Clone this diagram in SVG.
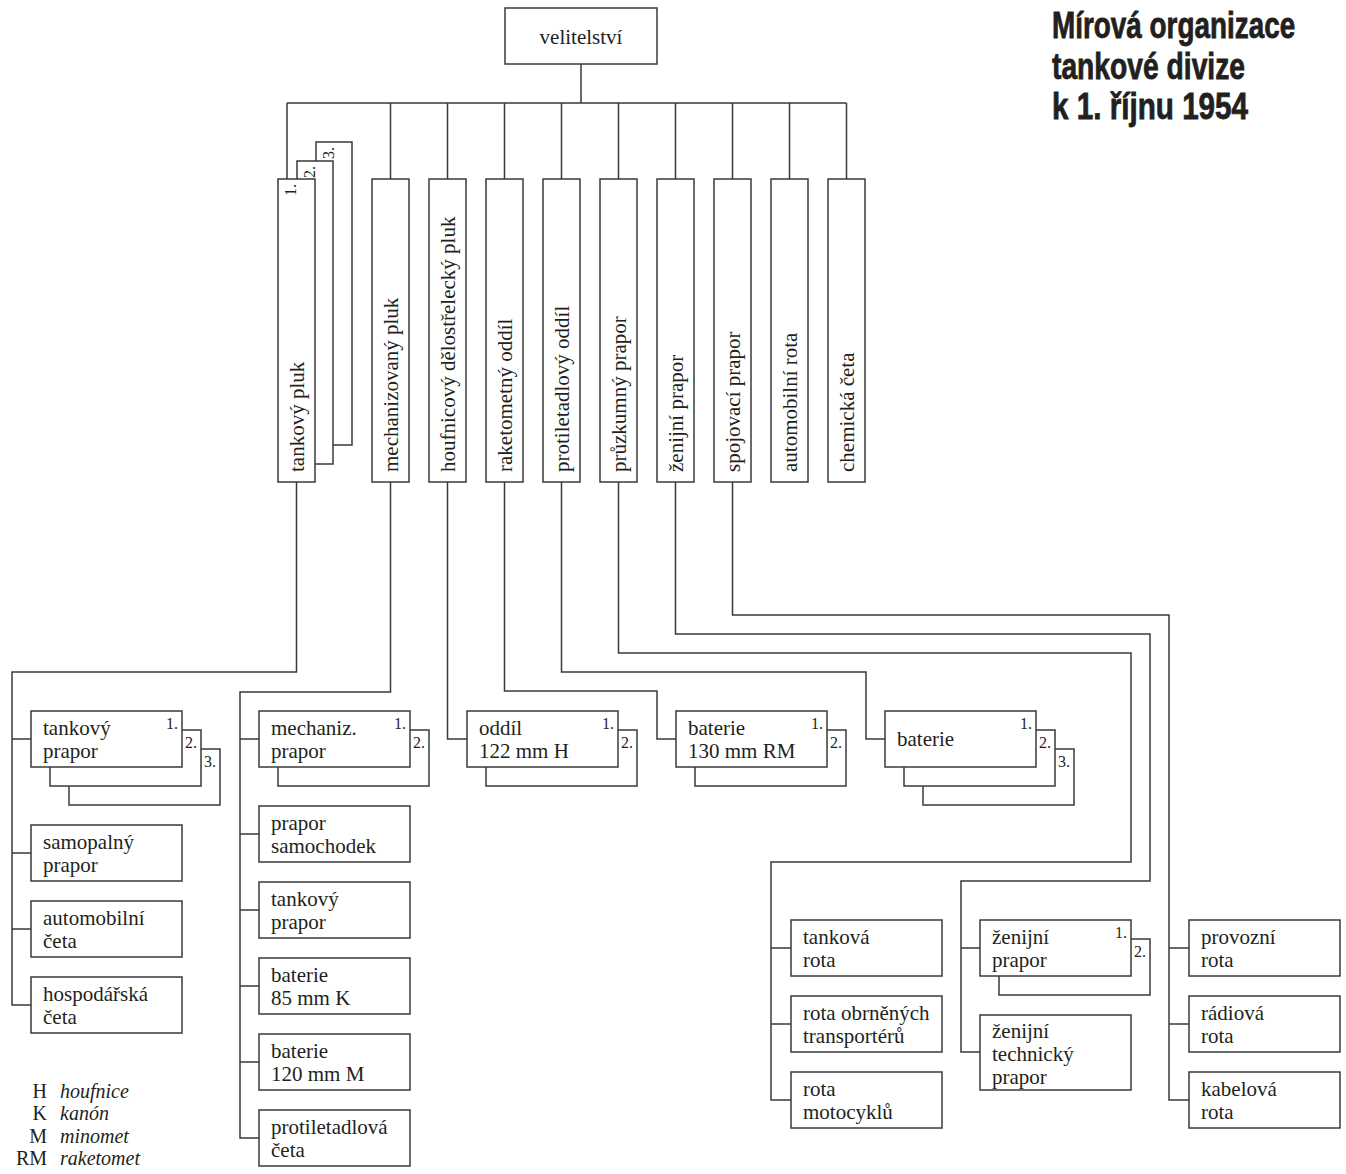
<svg xmlns="http://www.w3.org/2000/svg" width="1346" height="1174" viewBox="0 0 1346 1174">
<style>
.bx{fill:#fff;stroke:#3a3a3a;stroke-width:1.5}
.ln{fill:none;stroke:#3a3a3a;stroke-width:1.5}
.t{font-family:"Liberation Serif","Times New Roman",serif;font-size:21px;fill:#231f20}
.n{font-family:"Liberation Serif","Times New Roman",serif;font-size:16px;fill:#231f20;text-anchor:end}
.lg{font-family:"Liberation Serif","Times New Roman",serif;font-size:20px;fill:#231f20}
.lgi{font-style:italic}
.ttl{font-family:"Liberation Sans",Arial,sans-serif;font-weight:bold;font-size:37px;fill:#231f20;stroke:#231f20;stroke-width:0.8}
</style>
<rect width="1346" height="1174" fill="#fff"/>

<g id="title">
<text class="ttl" transform="translate(1052,38) scale(0.76,1)" textLength="320" lengthAdjust="spacingAndGlyphs">Mírová organizace</text>
<text class="ttl" transform="translate(1052,79) scale(0.76,1)" textLength="254" lengthAdjust="spacingAndGlyphs">tankové divize</text>
<text class="ttl" transform="translate(1052,119) scale(0.76,1)" textLength="258" lengthAdjust="spacingAndGlyphs">k 1. říjnu 1954</text>
</g>

<g id="connectors">
<path class="ln" d="M581 64V103M287 103H846.5M287 103V179"/>
<path class="ln" d="M390.5 103V179M447.5 103V179M504.5 103V179M561.5 103V179M618.5 103V179M675.5 103V179M732.5 103V179M789.5 103V179M846.5 103V179"/>
<path class="ln" d="M296.5 482V672H12V1005H31M12 739H31M12 853H31M12 929H31"/>
<path class="ln" d="M390.5 482V692H240V1138H259M240 739H259M240 834H259M240 910H259M240 986H259M240 1062H259"/>
<path class="ln" d="M447.5 482V739H467"/>
<path class="ln" d="M504.5 482V691H657V739H676"/>
<path class="ln" d="M561.5 482V672H866V739H885"/>
<path class="ln" d="M618.5 482V653H1131V862H771V1100H791M771 948H791M771 1024H791"/>
<path class="ln" d="M675.5 482V634H1150V881H961V1052H980M961 948H980"/>
<path class="ln" d="M732.5 482V615H1169V1100H1189M1169 948H1189M1169 1024H1189"/>
</g>

<g id="velitelstvi">
<rect class="bx" x="505" y="8" width="152" height="56"/>
<text class="t" x="581" y="44" text-anchor="middle">velitelství</text>
</g>

<g id="tankovy-pluk">
<rect class="bx" x="316" y="142" width="36" height="303"/>
<text class="n" transform="translate(334,147) rotate(-90)">3.</text>
<rect class="bx" x="297" y="161" width="36" height="303"/>
<text class="n" transform="translate(315,166) rotate(-90)">2.</text>
<rect class="bx" x="278" y="179" width="37" height="303"/>
<text class="n" transform="translate(296,184) rotate(-90)">1.</text>
<text class="t" transform="translate(304,472) rotate(-90)">tankový pluk</text>
</g>
<g id="mechanizovany-pluk">
<rect class="bx" x="372" y="179" width="37" height="303"/>
<text class="t" transform="translate(398,472) rotate(-90)">mechanizovaný pluk</text>
</g>
<g id="houfnicovy-pluk">
<rect class="bx" x="429" y="179" width="37" height="303"/>
<text class="t" transform="translate(455,472) rotate(-90)">houfnicový dělostřelecký pluk</text>
</g>
<g id="raketometny-oddil">
<rect class="bx" x="486" y="179" width="37" height="303"/>
<text class="t" transform="translate(512,472) rotate(-90)">raketometný oddíl</text>
</g>
<g id="protiletadlovy-oddil">
<rect class="bx" x="543" y="179" width="37" height="303"/>
<text class="t" transform="translate(569,472) rotate(-90)">protiletadlový oddíl</text>
</g>
<g id="pruzkumny-prapor">
<rect class="bx" x="600" y="179" width="37" height="303"/>
<text class="t" transform="translate(626,472) rotate(-90)">průzkumný prapor</text>
</g>
<g id="zenijni-prapor-top">
<rect class="bx" x="657" y="179" width="37" height="303"/>
<text class="t" transform="translate(683,472) rotate(-90)">ženijní prapor</text>
</g>
<g id="spojovaci-prapor">
<rect class="bx" x="714" y="179" width="37" height="303"/>
<text class="t" transform="translate(740,472) rotate(-90)">spojovací prapor</text>
</g>
<g id="automobilni-rota">
<rect class="bx" x="771" y="179" width="37" height="303"/>
<text class="t" transform="translate(797,472) rotate(-90)">automobilní rota</text>
</g>
<g id="chemicka-ceta">
<rect class="bx" x="828" y="179" width="37" height="303"/>
<text class="t" transform="translate(854,472) rotate(-90)">chemická četa</text>
</g>

<g id="tankovy-prapor">
<rect class="bx" x="69" y="749" width="151" height="56"/>
<text class="n" x="216" y="767">3.</text>
<rect class="bx" x="50" y="730" width="151" height="56"/>
<text class="n" x="197" y="748">2.</text>
<rect class="bx" x="31" y="711" width="151" height="56"/>
<text class="n" x="178" y="729">1.</text>
<text class="t" x="43" y="735">tankový</text>
<text class="t" x="43" y="758">prapor</text>
</g>
<g id="samopalny-prapor">
<rect class="bx" x="31" y="825" width="151" height="56"/>
<text class="t" x="43" y="849">samopalný</text>
<text class="t" x="43" y="872">prapor</text>
</g>
<g id="automobilni-ceta">
<rect class="bx" x="31" y="901" width="151" height="56"/>
<text class="t" x="43" y="925">automobilní</text>
<text class="t" x="43" y="948">četa</text>
</g>
<g id="hospodarska-ceta">
<rect class="bx" x="31" y="977" width="151" height="56"/>
<text class="t" x="43" y="1001">hospodářská</text>
<text class="t" x="43" y="1024">četa</text>
</g>

<g id="mechaniz-prapor">
<rect class="bx" x="278" y="730" width="151" height="56"/>
<text class="n" x="425" y="748">2.</text>
<rect class="bx" x="259" y="711" width="151" height="56"/>
<text class="n" x="406" y="729">1.</text>
<text class="t" x="271" y="735">mechaniz.</text>
<text class="t" x="271" y="758">prapor</text>
</g>
<g id="prapor-samochodek">
<rect class="bx" x="259" y="806" width="151" height="56"/>
<text class="t" x="271" y="830">prapor</text>
<text class="t" x="271" y="853">samochodek</text>
</g>
<g id="tankovy-prapor-m">
<rect class="bx" x="259" y="882" width="151" height="56"/>
<text class="t" x="271" y="906">tankový</text>
<text class="t" x="271" y="929">prapor</text>
</g>
<g id="baterie-85">
<rect class="bx" x="259" y="958" width="151" height="56"/>
<text class="t" x="271" y="982">baterie</text>
<text class="t" x="271" y="1005">85 mm K</text>
</g>
<g id="baterie-120">
<rect class="bx" x="259" y="1034" width="151" height="56"/>
<text class="t" x="271" y="1058">baterie</text>
<text class="t" x="271" y="1081">120 mm M</text>
</g>
<g id="protiletadlova-ceta">
<rect class="bx" x="259" y="1110" width="151" height="56"/>
<text class="t" x="271" y="1134">protiletadlová</text>
<text class="t" x="271" y="1157">četa</text>
</g>

<g id="oddil-122">
<rect class="bx" x="486" y="730" width="151" height="56"/>
<text class="n" x="633" y="748">2.</text>
<rect class="bx" x="467" y="711" width="151" height="56"/>
<text class="n" x="614" y="729">1.</text>
<text class="t" x="479" y="735">oddíl</text>
<text class="t" x="479" y="758">122 mm H</text>
</g>
<g id="baterie-130">
<rect class="bx" x="695" y="730" width="151" height="56"/>
<text class="n" x="842" y="748">2.</text>
<rect class="bx" x="676" y="711" width="151" height="56"/>
<text class="n" x="823" y="729">1.</text>
<text class="t" x="688" y="735">baterie</text>
<text class="t" x="688" y="758">130 mm RM</text>
</g>
<g id="baterie-pl">
<rect class="bx" x="923" y="749" width="151" height="56"/>
<text class="n" x="1070" y="767">3.</text>
<rect class="bx" x="904" y="730" width="151" height="56"/>
<text class="n" x="1051" y="748">2.</text>
<rect class="bx" x="885" y="711" width="151" height="56"/>
<text class="n" x="1032" y="729">1.</text>
<text class="t" x="897" y="746">baterie</text>
</g>

<g id="tankova-rota">
<rect class="bx" x="791" y="920" width="151" height="56"/>
<text class="t" x="803" y="944">tanková</text>
<text class="t" x="803" y="967">rota</text>
</g>
<g id="rota-obrnenych">
<rect class="bx" x="791" y="996" width="151" height="56"/>
<text class="t" x="803" y="1020">rota obrněných</text>
<text class="t" x="803" y="1043">transportérů</text>
</g>
<g id="rota-motocyklu">
<rect class="bx" x="791" y="1072" width="151" height="56"/>
<text class="t" x="803" y="1096">rota</text>
<text class="t" x="803" y="1119">motocyklů</text>
</g>

<g id="zenijni-prapor">
<rect class="bx" x="999" y="939" width="151" height="56"/>
<text class="n" x="1146" y="957">2.</text>
<rect class="bx" x="980" y="920" width="151" height="56"/>
<text class="n" x="1127" y="938">1.</text>
<text class="t" x="992" y="944">ženijní</text>
<text class="t" x="992" y="967">prapor</text>
</g>
<g id="zenijni-technicky-prapor">
<rect class="bx" x="980" y="1015" width="151" height="75"/>
<text class="t" x="992" y="1038">ženijní</text>
<text class="t" x="992" y="1061">technický</text>
<text class="t" x="992" y="1084">prapor</text>
</g>

<g id="provozni-rota">
<rect class="bx" x="1189" y="920" width="151" height="56"/>
<text class="t" x="1201" y="944">provozní</text>
<text class="t" x="1201" y="967">rota</text>
</g>
<g id="radiova-rota">
<rect class="bx" x="1189" y="996" width="151" height="56"/>
<text class="t" x="1201" y="1020">rádiová</text>
<text class="t" x="1201" y="1043">rota</text>
</g>
<g id="kabelova-rota">
<rect class="bx" x="1189" y="1072" width="151" height="56"/>
<text class="t" x="1201" y="1096">kabelová</text>
<text class="t" x="1201" y="1119">rota</text>
</g>

<g id="legend">
<text class="lg" x="47" y="1098" text-anchor="end">H</text>
<text class="lg lgi" x="60" y="1098">houfnice</text>
<text class="lg" x="47" y="1120" text-anchor="end">K</text>
<text class="lg lgi" x="60" y="1120">kanón</text>
<text class="lg" x="47" y="1143" text-anchor="end">M</text>
<text class="lg lgi" x="60" y="1143">minomet</text>
<text class="lg" x="47" y="1165" text-anchor="end">RM</text>
<text class="lg lgi" x="60" y="1165">raketomet</text>
</g>
</svg>
